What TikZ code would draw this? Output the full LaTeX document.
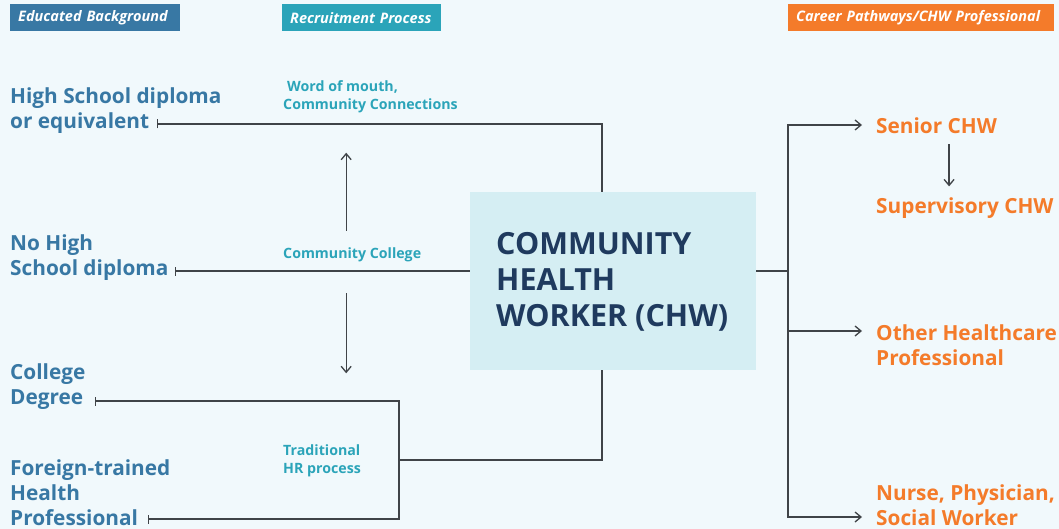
\documentclass[tikz,border=0pt]{standalone}
\usepackage{fontspec}
\setmainfont{Open Sans}
\usepackage[dvipsnames]{xcolor}
\usepackage{tikz}
\usetikzlibrary{arrows.meta}

\definecolor{bgpale}{HTML}{F1F9FC}
\definecolor{edublue}{HTML}{3878A4}
\definecolor{recteal}{HTML}{2BA4B9}
\definecolor{careerorange}{HTML}{F47B2A}
\definecolor{chwnavy}{HTML}{1F3A5E}
\definecolor{chwfill}{HTML}{D5EEF3}
\definecolor{linegray}{HTML}{404448}

\begin{document}
\begin{tikzpicture}[x=1pt, y=-1pt,
    conn/.style={draw=linegray, line width=1.3pt},
    tip/.style={-{Straight Barb[length=6pt, width=10pt]}},
    tick/.style={{Bar[width=9pt]}-},
    head/.style={anchor=north west, minimum height=27pt, inner xsep=8pt, inner ysep=0pt,
      text=white, align=left, font=\bfseries\itshape\fontsize{14.5}{16}\selectfont},
    edu/.style={anchor=west, align=left, inner sep=0pt, text=edublue,
      font=\bfseries\fontsize{20.8}{25}\selectfont},
    rec/.style={anchor=west, align=left, inner sep=0pt, text=recteal,
      font=\bfseries\fontsize{14.2}{18}\selectfont},
    career/.style={anchor=west, align=left, inner sep=0pt, text=careerorange,
      font=\bfseries\fontsize{20.8}{25}\selectfont}]
      \useasboundingbox (0, 0) rectangle (1059, 529);
      \fill[bgpale] (0, 0) rectangle (1059, 529);

      \node[head, fill=edublue, text width=154pt] (hd-edu) at (10, 4) {Educated Background};
      \node[head, fill=recteal, text width=143pt] (hd-rec) at (282, 4) {Recruitment Process};
      \node[head, fill=careerorange, text width=250pt] (hd-car) at (788, 4) {Career Pathways/CHW Professional};

      \node[fill=chwfill, minimum width=286pt, minimum height=178pt, inner sep=0pt] (chw) at (613, 281) {};
      \node[anchor=west, align=left, inner sep=0pt, text=chwnavy,
            font=\bfseries\fontsize{30.5}{36}\selectfont] (chw-text) at (496, 282)
            {COMMUNITY\\HEALTH\\WORKER (CHW)};

      \node[edu] (hs) at (10, 111) {High School diploma\\or equivalent};
      \node[edu] (nohs) at (10, 258) {No High\\School diploma};
      \node[edu] (cd) at (10, 387) {College\\Degree};
      \node[edu] (fp) at (10, 493) {Foreign-trained\\Health\\Professional};

      \node[rec] (wom) at (283, 97) {\hspace{4pt}Word of mouth,\\Community Connections};
      \node[rec] (cc) at (283, 255) {Community College};
      \node[rec] (hr) at (283, 461) {Traditional\\HR process};

      \node[career] (senior) at (876, 126) {Senior CHW};
      \node[career] (super) at (876, 208) {Supervisory CHW};
      \node[career] (other) at (876, 345) {Other Healthcare\\Professional};
      \node[career] (nurse) at (876, 505) {Nurse, Physician,\\Social Worker};

      \coordinate (hs-end) at (157, 124);
      \coordinate (nohs-end) at (175, 271);
      \coordinate (cd-end) at (95, 401);
      \coordinate (fp-end) at (148, 519);
      \coordinate (hr-join) at (399, 460);
      \coordinate (split) at (788, 271);

      \draw[conn, tick] (hs-end) -| ([xshift=-11pt]chw.north);
      \draw[conn, tick] (nohs-end) -- (nohs-end -| chw.west);
      \draw[conn, {Bar[width=9pt]}-{Bar[width=9pt]}] (cd-end) -| (hr-join) |- (fp-end);
      \draw[conn] (hr-join) -| ([xshift=-11pt]chw.south);

      \draw[conn, tip] ([xshift=-6pt, yshift=17pt]cc.north) -- ++(0, -78);
      \draw[conn, tip] ([xshift=-6pt, yshift=-31pt]cc.south) -- ++(0, 80);

      \draw[conn] (split -| chw.east) -- (split);
      \draw[conn, tip] (split) |- ([xshift=-14pt, yshift=1pt]senior.west);
      \draw[conn, tip] (split) |- ([xshift=-14pt, yshift=14pt]other.west);
      \draw[conn, tip] (split) |- ([xshift=-14pt, yshift=-12pt]nurse.west);
      \draw[conn, tip, shorten <=10pt, shorten >=11pt]
            ([xshift=12.5pt]senior.south) -- ([xshift=12.5pt]senior.south |- super.north);
    \end{tikzpicture}
\end{document}
